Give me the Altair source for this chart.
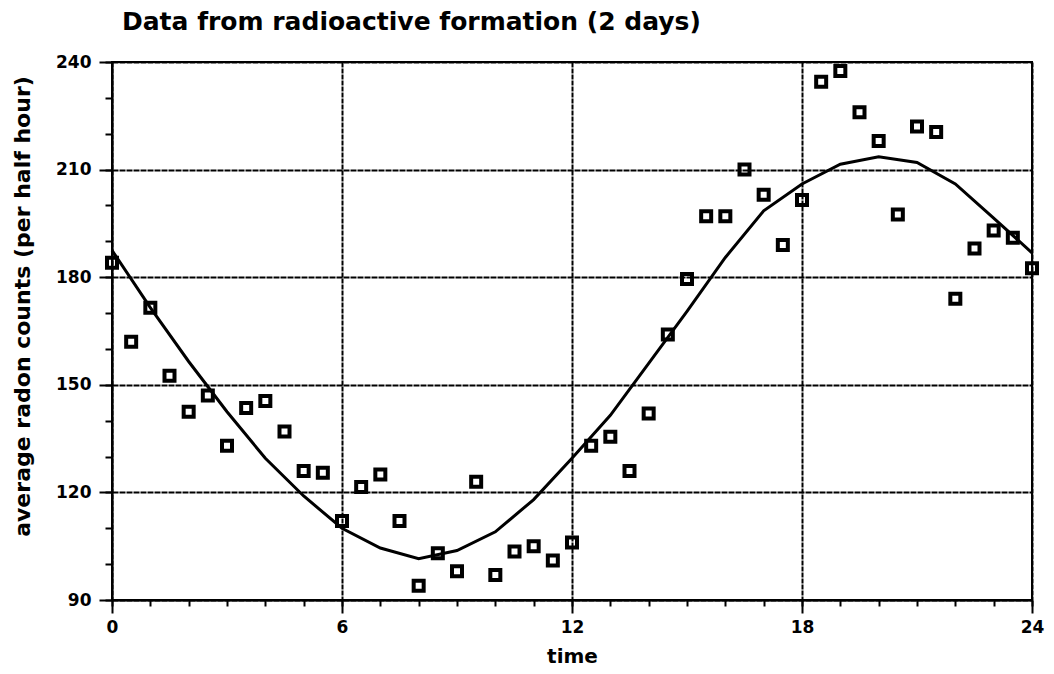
import altair as alt
import pandas as pd

# Observed half-hourly radon counts
times = [0, 0.5, 1, 1.5, 2, 2.5, 3, 3.5, 4, 4.5, 5, 5.5, 6, 6.5, 7, 7.5, 8, 8.5,
         9, 9.5, 10, 10.5, 11, 11.5, 12, 12.5, 13, 13.5, 14, 14.5, 15, 15.5, 16,
         16.5, 17, 17.5, 18, 18.5, 19, 19.5, 20, 20.5, 21, 21.5, 22, 22.5, 23,
         23.5, 24]
counts = [184, 162, 171.5, 152.5, 142.5, 147, 133, 143.5, 145.5, 137, 126, 125.5,
          112, 121.5, 125, 112, 94, 103, 98, 123, 97, 103.5, 105, 101, 106, 133,
          135.5, 126, 142, 164, 179.5, 197, 197, 210, 203, 189, 201.5, 234.5,
          237.5, 226, 218, 197.5, 222, 220.5, 174, 188, 193, 191, 182.5]

# Fitted smooth curve (hourly)
fit_times = list(range(0, 25))
fit_counts = [187.5, 171.5, 156.5, 142.5, 129.5, 119, 110, 104.5, 101.5, 103.8,
              109, 118, 129.5, 141.5, 156, 170.5, 185.5, 198.5, 206, 211.5,
              213.6, 212, 206, 196.5, 186.8]

x_major = [0, 6, 12, 18, 24]
x_minor = list(range(0, 25))
y_major = [90, 120, 150, 180, 210, 240]
y_minor = list(range(90, 241, 10))

obs = pd.DataFrame({"time": times, "count": counts})
fit = pd.DataFrame({"time": fit_times, "count": fit_counts})

FONT = "DejaVu Sans"
xscale = alt.Scale(domain=[0, 24], nice=False, zero=False)
yscale = alt.Scale(domain=[90, 240], nice=False, zero=False)

points = alt.Chart(obs).mark_point(
    shape="square", filled=False, size=100, stroke="black", strokeWidth=4, opacity=1
).encode(
    x=alt.X("time:Q", scale=xscale,
            axis=alt.Axis(values=x_major, title="time", format="d",
                          grid=True, gridColor="black", gridWidth=2, gridDash=[5, 1],
                          gridOpacity=1, labelFlush=False,
                          tickSize=13, tickWidth=2, tickColor="black",
                          domainColor="black", domainWidth=2,
                          labelFont=FONT, labelFontSize=17, labelFontWeight="bold",
                          labelColor="black", labelPadding=6,
                          titleFont=FONT, titleFontSize=20, titleFontWeight="bold",
                          titleColor="black", titlePadding=11, orient="bottom")),
    y=alt.Y("count:Q", scale=yscale,
            axis=alt.Axis(values=y_major, title="average radon counts (per half hour)",
                          grid=True, gridColor="black", gridWidth=2, gridDash=[6, 1],
                          gridOpacity=1, labelFlush=False,
                          tickSize=13, tickWidth=2, tickColor="black",
                          domainColor="black", domainWidth=2,
                          labelFont=FONT, labelFontSize=17, labelFontWeight="bold",
                          labelColor="black", labelPadding=8,
                          titleFont=FONT, titleFontSize=22, titleFontWeight="bold",
                          titleColor="black", titleAngle=-90,
                          titleX=-83, titleY=244, titleBaseline="alphabetic",
                          titleAlign="center", orient="left")),
)

curve = alt.Chart(fit).mark_line(color="black", strokeWidth=3).encode(
    x=alt.X("time:Q", scale=xscale,
            axis=alt.Axis(values=x_minor, labels=False, title=None, grid=False,
                          tickSize=6, tickWidth=2, tickColor="black",
                          domain=False, orient="bottom")),
    y=alt.Y("count:Q", scale=yscale,
            axis=alt.Axis(values=y_minor, labels=False, title=None, grid=False,
                          tickSize=7, tickWidth=2, tickColor="black",
                          domain=False, orient="left")),
)

chart = alt.layer(points, curve).resolve_axis(
    x="independent", y="independent"
).properties(
    width=920,
    height=538,
    padding={"left": 104, "top": 54, "right": 14, "bottom": 66},
    autosize=alt.AutoSizeParams(type="none"),
    title=alt.TitleParams(
        "Data from radioactive formation (2 days)",
        anchor="start", frame="group", dx=10, offset=18, font=FONT, fontSize=25,
        fontWeight="bold", color="black",
    ),
).configure_view(stroke="black", strokeWidth=2)

chart.save("out.html", embed_options={"renderer": "svg", "actions": False})
